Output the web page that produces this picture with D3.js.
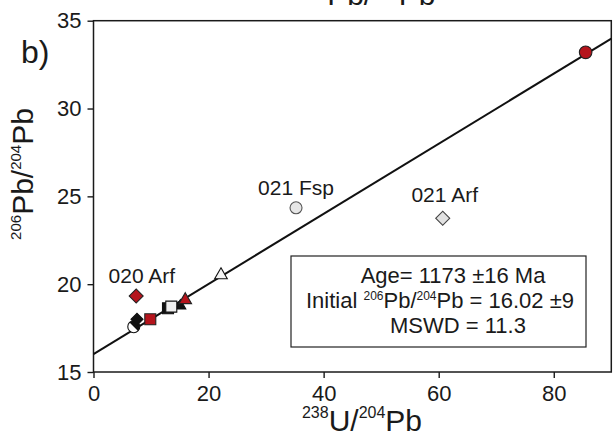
<!DOCTYPE html>
<html>
<head>
<meta charset="utf-8">
<script src="https://cdn.jsdelivr.net/npm/d3@7"></script>
<style>
  body { margin: 0; background: #fff; }
  svg { display: block; font-family: "Liberation Sans", Arial, sans-serif; }
</style>
</head>
<body>
<svg id="chart" width="613" height="437"></svg>
<script>
// ---- data ----
const xTicks = [0, 20, 40, 60, 80];
const yTicks = [15, 20, 25, 30, 35];
const xDomain = [0, 90];
const yDomain = [15, 35];

// 238U/204Pb and 206Pb/204Pb of each analysed fraction
const sampleU  = [7.0, 7.56, 7.42, 9.87, 15.1, 12.95, 13.52, 15.95, 22.16, 85.54, 35.2, 60.7];
const samplePb = [17.58, 18.0, 19.33, 18.0, 18.77, 18.63, 18.72, 19.1, 20.52, 33.2, 24.35, 23.75];
const sampleMarker = ["halfCircle", "blackDiamond", "redDiamond", "redSquare", "blackTriangle",
                      "blackSquare", "whiteSquare", "redTriangle", "whiteTriangle", "redCircle",
                      "greyCircle", "greyDiamond"];

const labelText   = ["021 Fsp", "021 Arf", "020 Arf"];
const labelSample = [10, 11, 2];

// isochron result
const isoAge = 1173, isoAgeErr = 16;
const isoIntercept = 16.02, isoInterceptErr = "9";
const isoMSWD = 11.3;
const lambda238 = 1.55125e-4; // per Ma

// ---- layout ----
const svg = d3.select("#chart");
const x = d3.scaleLinear().domain(xDomain).range([93.5, 611.3]);
const y = d3.scaleLinear().domain(yDomain).range([372, 20.7]);
const ink = "#1a1a1a";
const red = "#b5141c";

function supText(sel, parts, big, small, rise) {
  // parts: [text, isSuperscript]
  let raised = false;
  parts.forEach(([t, sup]) => {
    const ts = sel.append("tspan").text(t).attr("font-size", sup ? small : big);
    if (sup && !raised) { ts.attr("dy", -rise); raised = true; }
    else if (!sup && raised) { ts.attr("dy", rise); raised = false; }
  });
}

// axes
const gx = svg.append("g").attr("transform", `translate(0,${y(yDomain[0])})`)
  .call(d3.axisBottom(x).tickValues(xTicks).tickSize(6).tickSizeOuter(0).tickPadding(7));
const gy = svg.append("g").attr("transform", `translate(${x(xDomain[0])},0)`)
  .call(d3.axisLeft(y).tickValues(yTicks).tickSize(6).tickSizeOuter(0).tickPadding(6));
[gx, gy].forEach(g => {
  g.select(".domain").remove();
  g.selectAll("line").attr("stroke", ink).attr("stroke-width", 1.4);
  g.selectAll("text").attr("font-size", 22).attr("fill", ink)
    .attr("font-family", "Liberation Sans, Arial, sans-serif");
});

// frame
svg.append("rect")
  .attr("x", x(xDomain[0])).attr("y", y(yDomain[1]))
  .attr("width", x(xDomain[1]) - x(xDomain[0]))
  .attr("height", y(yDomain[0]) - y(yDomain[1]))
  .attr("fill", "none").attr("stroke", ink).attr("stroke-width", 1.5);

// isochron line
const slope = Math.exp(lambda238 * isoAge) - 1;
svg.append("line")
  .attr("x1", x(xDomain[0])).attr("y1", y(isoIntercept + slope * xDomain[0]))
  .attr("x2", x(xDomain[1])).attr("y2", y(isoIntercept + slope * xDomain[1]))
  .attr("stroke", "#111").attr("stroke-width", 2);

// markers
const markerStyle = {
  redCircle:     { shape: "circle",   r: 6.3, fill: red,       stroke: "#222" },
  greyCircle:    { shape: "circle",   r: 6,   fill: "#e6e6e6", stroke: "#555" },
  greyDiamond:   { shape: "diamond",  r: 7,   fill: "#e2e2e2", stroke: "#444" },
  redDiamond:    { shape: "diamond",  r: 7,   fill: red,       stroke: "#222" },
  blackDiamond:  { shape: "diamond",  r: 6,   fill: "#111",    stroke: "#111" },
  redSquare:     { shape: "square",   r: 5.5, fill: red,       stroke: "#222" },
  blackSquare:   { shape: "square",   r: 5.5, fill: "#111",    stroke: "#111" },
  whiteSquare:   { shape: "square",   r: 5.5, fill: "#efefef", stroke: "#111" },
  redTriangle:   { shape: "triangle", r: 7,   fill: red,       stroke: "#222" },
  whiteTriangle: { shape: "triangle", r: 7,   fill: "#f4f4f4", stroke: "#111" },
  blackTriangle: { shape: "triangle", r: 6,   fill: "#111",    stroke: "#111" },
  halfCircle:    { shape: "half",     r: 6,   fill: "#fff",    stroke: "#111" }
};

const gm = svg.append("g");
sampleU.forEach((u, i) => {
  const st = markerStyle[sampleMarker[i]];
  const cx = x(u), cy = y(samplePb[i]);
  const g = gm.append("g").attr("transform", `translate(${cx},${cy})`);
  if (st.shape === "circle" || st.shape === "half") {
    g.append("circle").attr("r", st.r).attr("fill", st.fill)
      .attr("stroke", st.stroke).attr("stroke-width", 1.1);
    if (st.shape === "half") {
      const arc = d3.arc().innerRadius(0).outerRadius(st.r)
        .startAngle(-Math.PI / 4).endAngle(Math.PI * 3 / 4);
      g.append("path").attr("d", arc()).attr("fill", "#111");
    }
  } else if (st.shape === "square") {
    g.append("path").attr("d", d3.symbol(d3.symbolSquare, (2 * st.r) ** 2)())
      .attr("fill", st.fill).attr("stroke", st.stroke).attr("stroke-width", 1.1);
  } else if (st.shape === "diamond") {
    g.append("path").attr("d", d3.symbol(d3.symbolSquare, 2 * st.r * st.r)())
      .attr("transform", "rotate(45)")
      .attr("fill", st.fill).attr("stroke", st.stroke).attr("stroke-width", 1.1);
  } else if (st.shape === "triangle") {
    const side = st.r * 1.8;
    g.append("path").attr("d", d3.symbol(d3.symbolTriangle, Math.sqrt(3) / 4 * side * side)())
      .attr("fill", st.fill).attr("stroke", st.stroke).attr("stroke-width", 1.1);
  }
});

// sample labels
const labelOffset = [[0, -12.7], [2, -16.6], [5.7, -12.8]];
labelText.forEach((t, k) => {
  const i = labelSample[k];
  svg.append("text")
    .attr("x", x(sampleU[i]) + labelOffset[k][0])
    .attr("y", y(samplePb[i]) + labelOffset[k][1])
    .attr("text-anchor", "middle").attr("font-size", 21).attr("fill", ink)
    .text(t);
});

// result box
svg.append("rect").attr("x", 291).attr("y", 256).attr("width", 295).attr("height", 91)
  .attr("fill", "#fff").attr("stroke", "#222").attr("stroke-width", 1.2);
svg.append("text").attr("x", 453).attr("y", 283).attr("text-anchor", "middle")
  .attr("font-size", 22).attr("fill", ink)
  .text(`Age= ${isoAge} \u00B1${isoAgeErr} Ma`);
const l2 = svg.append("text").attr("x", 440).attr("y", 308).attr("text-anchor", "middle")
  .attr("fill", ink);
supText(l2, [["Initial ", false], ["206", true], ["Pb/", false], ["204", true],
             [`Pb = ${isoIntercept.toFixed(2)} \u00B1${isoInterceptErr}`, false]], 22, 12, 8);
svg.append("text").attr("x", 458).attr("y", 333).attr("text-anchor", "middle")
  .attr("font-size", 22).attr("fill", ink)
  .text(`MSWD = ${isoMSWD}`);

// axis titles
const xt = svg.append("text").attr("x", 362).attr("y", 431).attr("text-anchor", "middle")
  .attr("fill", ink);
supText(xt, [["238", true], ["U/", false], ["204", true], ["Pb", false]], 30, 16, 13);

const yt = svg.append("text").attr("transform", "translate(33,174) rotate(-90)")
  .attr("text-anchor", "middle").attr("fill", ink);
supText(yt, [["206", true], ["Pb/", false], ["204", true], ["Pb", false]], 30, 15, 12);

// chart title, partly above the top edge
const tt = svg.append("text").attr("x", 368).attr("y", 5).attr("text-anchor", "middle")
  .attr("fill", ink);
supText(tt, [["206", true], ["Pb/", false], ["204", true], ["Pb", false]], 30, 16, 13);

// panel letter
svg.append("text").attr("x", 21).attr("y", 63).attr("font-size", 32).attr("fill", ink).text("b)");
</script>
</body>
</html>
